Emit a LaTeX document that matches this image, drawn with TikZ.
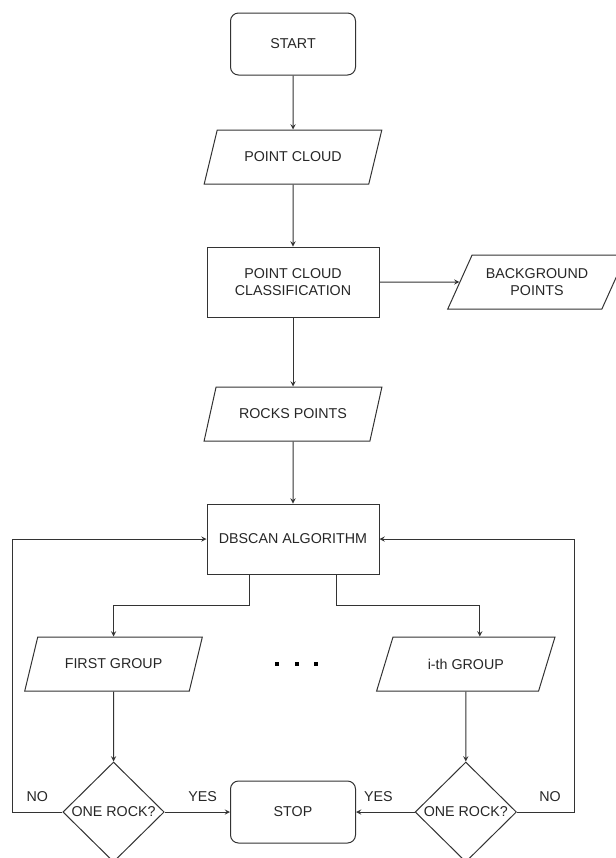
\documentclass[tikz,border=0pt]{standalone}
\usepackage{fontspec}
\setmainfont{Liberation Sans}
\usetikzlibrary{shapes.geometric}

\begin{document}
\begin{tikzpicture}[x=0.75pt,y=-0.75pt,->,>=stealth,line width=0.75pt,black!80,
    every node/.style={font=\fontsize{10.7pt}{12.3pt}\selectfont,text=black!85},
    term node/.style={draw,rounded corners=6pt,minimum width=93.75pt,minimum height=46.5pt},
    proc node/.style={draw,minimum width=129pt,minimum height=52.5pt,align=center},
    io node/.style={draw,trapezium,trapezium left angle=56,trapezium right angle=124,trapezium stretches=true,minimum width=134pt,minimum height=40.5pt,inner sep=1pt,align=center},
    dec node/.style={draw,diamond,minimum width=76pt,minimum height=75pt,inner sep=0pt},
    dot node/.style={fill=black,minimum size=3pt,inner sep=0pt},
    lbl/.style={inner sep=0pt}]
    \useasboundingbox (0,0) rectangle (616,858);

    \node[term node] (start) at (293,44) {START};
    \node[io node] (cloud) [below of=start,node distance=84.75pt] {POINT CLOUD};
    \node[proc node] (class) [below of=cloud,node distance=93.75pt] {POINT CLOUD\\CLASSIFICATION};
    \node[io node] (bg) [right of=class,node distance=183pt] {BACKGROUND\\POINTS};
    \node[io node] (rocks) [below of=class,node distance=99pt] {ROCKS POINTS};
    \node[proc node] (dbscan) [below of=rocks,node distance=93.75pt] {DBSCAN ALGORITHM};
    \node[io node] (first) [below of=dbscan,node distance=93.75pt,xshift=-134.6pt] {FIRST GROUP};
    \node[io node] (ith) [below of=dbscan,node distance=93.75pt,xshift=129.6pt] {i-th GROUP};
    \node[dec node] (rock1) [below of=first,node distance=111pt] {ONE ROCK?};
    \node[dec node] (rock2) [below of=ith,node distance=111pt] {ONE ROCK?};
    \node[term node] (stop) [below of=dbscan,node distance=204.75pt] {STOP};
    \foreach \i/\x in {1/277,2/297,3/316}
        \node[dot node] (dot\i) at (\x,664) {};

    \path
        (start) edge (cloud)
        (cloud) edge (class)
        (class) edge (bg)
        (class) edge (rocks)
        (rocks) edge (dbscan)
        (first) edge (rock1)
        (ith) edge (rock2)
        (rock1) edge node[lbl,above=7.5pt,pos=0.58] {YES} (stop)
        (rock2) edge node[lbl,above=7.5pt,pos=0.62] {YES} (stop)
    ;

    % split into the groups
    \draw ([xshift=32.5pt]dbscan.south west) -- ++(0,31) -| (first.north);
    \draw ([xshift=-32.5pt]dbscan.south east) -- ++(0,31) -| ([xshift=10.5pt]ith.north);
    % back to the clustering
    \draw (rock1.west) -- node[lbl,above=7.5pt] {NO} ++(-50,0) |- (dbscan.west);
    \draw (rock2.east) -- node[lbl,above=7.5pt,pos=0.57] {NO} ++(58,0) |- (dbscan.east);
\end{tikzpicture}
\end{document}
